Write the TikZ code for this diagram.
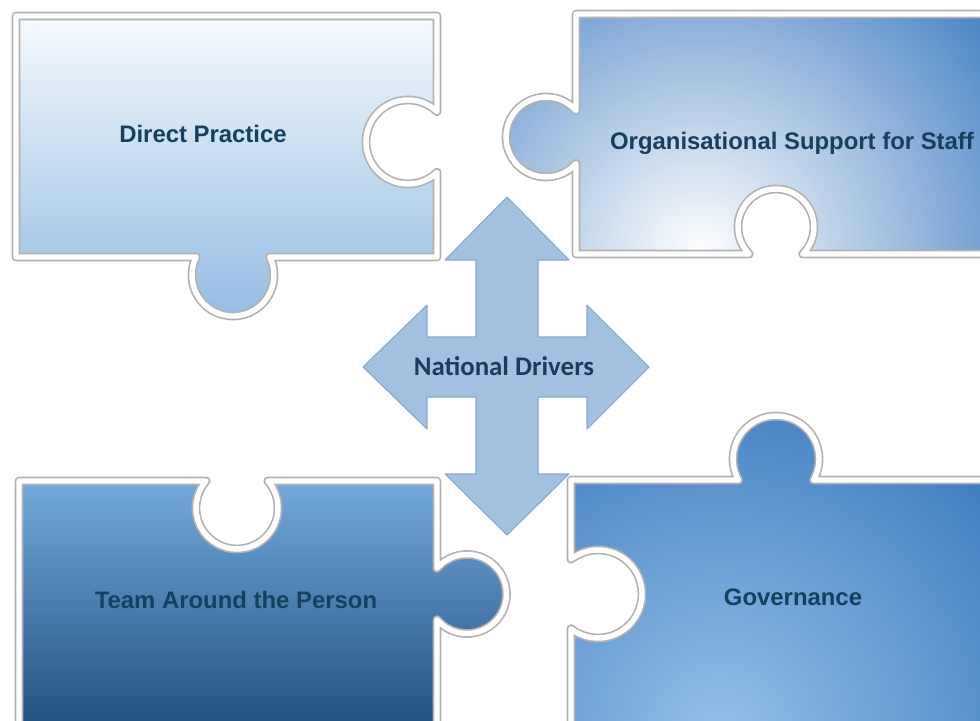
\documentclass[tikz,border=0pt]{standalone}
\usepackage{fontspec}
\setmainfont{Liberation Sans}
\newfontfamily\driverfont{Carlito}
\usepackage{xcolor}
\usepackage{tikz}

\definecolor{labelblue}{HTML}{17405F}
\definecolor{practicetop}{HTML}{F7FBFE}
\definecolor{practicebottom}{HTML}{92BBE3}
\definecolor{supportblue}{HTML}{3F7CC0}
\definecolor{teamtop}{HTML}{76ABDF}
\definecolor{teambottom}{HTML}{21507E}
\definecolor{govlight}{HTML}{95BEE6}
\definecolor{govblue}{HTML}{3B7ABF}
\definecolor{driverfill}{HTML}{A2C0DF}
\definecolor{driveredge}{HTML}{86A9CF}
\definecolor{drivertext}{HTML}{1E3A5E}

\tikzset{
    rim shade/.style={draw=gray!60, line width=5pt, line join=round},
    rim light/.style={draw=white, line width=3.1pt, line join=round},
    piece label/.style={anchor=base, text=labelblue,
        font=\fontsize{13.6}{16}\selectfont\bfseries},
}

\begin{document}
\begin{tikzpicture}[x=0.02cm, y=0.02cm]
    \useasboundingbox[fill=white] (0,0) rectangle (980,-720);

    % Puzzle outlines
    \path[save path=\practicepiece] (16,-16) -- (437,-16) -- (437,-111.6)
        arc[start angle=46.3, end angle=313.7, radius=42] -- (437,-257) -- (269.8,-257)
        arc[start angle=26.1, end angle=-206.1, radius=41] -- (16,-257) -- cycle;
    \path[save path=\supportpiece] (576,-14) -- (995,-14) -- (995,-254) -- (802.7,-254)
        arc[start angle=-45.3, end angle=225.3, radius=38] -- (576,-254) -- (576,-163.5)
        arc[start angle=318.5, end angle=41.5, radius=40] -- cycle;
    \path[save path=\teampiece] (19,-481) -- (206.1,-481)
        arc[start angle=138.9, end angle=401.1, radius=41] -- (437,-481) -- (437,-568.3)
        arc[start angle=139.4, end angle=-139.4, radius=39.5] -- (437,-730) -- (19,-730) -- cycle;
    \path[save path=\govpiece] (571,-480) -- (738.5,-480)
        arc[start angle=209.2, end angle=-29.2, radius=43] -- (995,-480) -- (995,-730) -- (571,-730)
        -- (571,-628.7) arc[start angle=-127.9, end angle=127.9, radius=44] -- cycle;

    % Fills
    \begin{scope}
        \clip[use path=\practicepiece];
        \fill[top color=practicetop, bottom color=practicebottom] (10,-10) rectangle (445,-322);
    \end{scope}
    \begin{scope}
        \clip[use path=\supportpiece];
        \fill[inner color=white, outer color=supportblue] (700,-255) circle (395);
    \end{scope}
    \begin{scope}
        \clip[use path=\teampiece];
        \fill[top color=teamtop, bottom color=teambottom] (10,-475) rectangle (515,-730);
    \end{scope}
    \begin{scope}
        \clip[use path=\govpiece];
        \fill[inner color=govlight, outer color=govblue] (720,-735) circle (390);
    \end{scope}

    % Bevelled rims
    \path[rim shade, use path=\practicepiece];
    \path[rim shade, use path=\supportpiece];
    \path[rim shade, use path=\teampiece];
    \path[rim shade, use path=\govpiece];
    \path[rim light, use path=\practicepiece];
    \path[rim light, use path=\supportpiece];
    \path[rim light, use path=\teampiece];
    \path[rim light, use path=\govpiece];

    % Four-way arrow
    \filldraw[fill=driverfill, draw=driveredge, line width=0.6pt, line join=round]
        (507,-197) -- (569,-260) -- (538,-260) -- (538,-337) -- (587,-337) -- (587,-305)
        -- (649,-367) -- (587,-429) -- (587,-397) -- (538,-397) -- (538,-474) -- (569,-474)
        -- (507,-535) -- (445,-474) -- (476,-474) -- (476,-397) -- (427,-397) -- (427,-429)
        -- (363,-367) -- (427,-305) -- (427,-337) -- (476,-337) -- (476,-260) -- (445,-260) -- cycle;

    % Labels
    \node[piece label] (practice) at (203,-142) {Direct Practice};
    \node[piece label] (support) at (792,-149) {Organisational Support for Staff};
    \node[piece label] (team) at (236,-608) {Team Around the Person};
    \node[piece label] (governance) at (793,-605) {Governance};
    \node[anchor=base, text=drivertext, font=\driverfont\fontsize{15.3}{18}\selectfont\bfseries]
        (drivers) at (504,-375) {National Drivers};
\end{tikzpicture}
\end{document}
